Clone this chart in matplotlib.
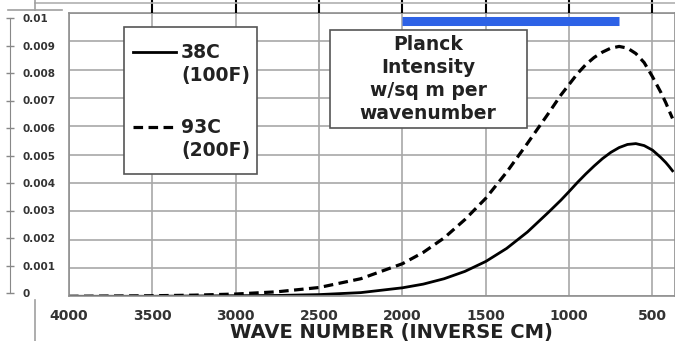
import matplotlib
matplotlib.use("Agg")
import matplotlib.pyplot as plt
from matplotlib.lines import Line2D
from matplotlib.patches import Rectangle

# values
wavenumber = [4000, 3750, 3500, 3250, 3000, 2750, 2500, 2250, 2000, 1875, 1750,
              1625, 1500, 1375, 1250, 1125, 1050, 1000, 950, 900, 850, 800, 750,
              700, 650, 600, 550, 500, 450, 420, 400, 380]
intensity_38c = [0.0, 0.0, 0.0, 0.00001, 0.00002, 0.00003, 0.00006, 0.00013,
                 0.00030, 0.00043, 0.00062, 0.00088, 0.00123, 0.00169, 0.00227,
                 0.00296, 0.00339, 0.00370, 0.00402, 0.00432, 0.00460, 0.00486,
                 0.00508, 0.00525, 0.00536, 0.00539, 0.00532, 0.00516, 0.00490,
                 0.00472, 0.00458, 0.00443]
intensity_93c = [0.0, 0.00001, 0.00002, 0.00004, 0.00008, 0.00016, 0.00031,
                 0.00062, 0.00115, 0.00155, 0.00206, 0.00271, 0.00346, 0.00438,
                 0.00540, 0.00645, 0.00710, 0.00748, 0.00786, 0.00818, 0.00843,
                 0.00862, 0.00876, 0.00882, 0.00876, 0.00857, 0.00825, 0.00775,
                 0.00720, 0.00683, 0.00655, 0.00628]
band_x = [2000, 700]
band_y = 0.00973

xticks = [4000, 3500, 3000, 2500, 2000, 1500, 1000, 500]
yticks = [0, 0.001, 0.002, 0.003, 0.004, 0.005, 0.006, 0.007, 0.008, 0.009, 0.01]
ytick_labels = ["0", "0.001", "0.002", "0.003", "0.004", "0.005", "0.006",
                "0.007", "0.008", "0.009", "0.01"]
legend_labels = ["38C\n(100F)", "93C\n(200F)"]
box_text = "Planck\nIntensity\nw/sq m per\nwavenumber"
xlabel = "WAVE NUMBER (INVERSE CM)"

W, H = 675, 341
plt.rcParams['font.family'] = ['DejaVu Sans']


def fx(x):
    return x / W


def fy(y):
    return 1 - y / H


fig = plt.figure(figsize=(W / 100, H / 100), dpi=100)

# main plot area
ax = fig.add_axes([fx(69), fy(296.3), (W - 69) / W, 283.3 / H])
ax.set_xlim(4000, 365)
ax.set_ylim(0, 0.01)
ax.set_xticks(xticks)
ax.set_yticks(yticks)
ax.set_yticklabels([])
ax.grid(True, color='#a8a8a8', lw=1.2)
ax.set_axisbelow(True)
ax.tick_params(axis='both', length=0)
ax.tick_params(axis='x', pad=9, labelsize=10, labelcolor='#333333')
for lab in ax.get_xticklabels():
    lab.set_fontweight('bold')
for sp in ax.spines.values():
    sp.set_color('#8f8f8f')
    sp.set_linewidth(1.2)

ax.plot(wavenumber, intensity_38c, color='black', lw=2.0,
        solid_joinstyle='round')
ax.plot(wavenumber, intensity_93c, color='black', lw=2.3, dashes=(3, 1.7),
        dash_joinstyle='round')
ax.plot(band_x, [band_y, band_y], color='#2d62e6', lw=6.5, solid_capstyle='butt')

# black tick marks above the plot (left over from the chart above)
ax_top = ax.twiny()
ax_top.set_xlim(ax.get_xlim())
ax_top.set_xticks(xticks[1:])
ax_top.set_xticklabels([])
ax_top.tick_params(axis='x', direction='out', length=9.5, width=1.5, color='black')
for sp in ax_top.spines.values():
    sp.set_visible(False)

# separate value scale on the far left
ax_left = fig.add_axes([fx(10), fy(293), 0.0001, (293 - 18) / H])
ax_left.set_ylim(0, 0.01)
ax_left.set_xticks([])
ax_left.set_yticks(yticks)
ax_left.set_yticklabels(ytick_labels, fontsize=7.5, fontweight='bold', color='#333333')
ax_left.tick_params(axis='y', left=False, right=True, labelleft=False,
                    labelright=True, direction='inout', length=6, width=1,
                    color='#888888', pad=6)
ax_left.patch.set_visible(False)
for name, sp in ax_left.spines.items():
    sp.set_visible(name == 'left')
    sp.set_color('#888888')

# stray lines around the edges of the cropped picture
fig.add_artist(Line2D([fx(35), 1], [fy(3.3)] * 2, color='#b0b0b0', lw=1.2))
fig.add_artist(Line2D([fx(8), fx(62)], [fy(9.5)] * 2, color='#a0a0a0', lw=1.2))
fig.add_artist(Line2D([fx(35)] * 2, [fy(0), fy(9.5)], color='#a0a0a0', lw=1.2))
fig.add_artist(Line2D([fx(35)] * 2, [fy(300), fy(341)], color='#a0a0a0', lw=1.2))

fig.text(fx(391), fy(332.5), xlabel, ha='center', va='center', fontsize=14,
         fontweight='bold', color='#222222')

# legend box, drawn by hand
fig.add_artist(Rectangle((fx(124), fy(174)), fx(257) - fx(124), fy(27) - fy(174),
                         transform=fig.transFigure, facecolor='white',
                         edgecolor='#555555', lw=1.2))
fig.add_artist(Line2D([fx(133), fx(176)], [fy(52)] * 2, color='black', lw=2.0))
fig.add_artist(Line2D([fx(133), fx(177)], [fy(127)] * 2, color='black', lw=2.3,
                      dashes=(3, 1.7)))
for label, top in zip(legend_labels, [52, 127]):
    fig.text(fx(181), fy(top - 9), label, ha='left', va='top', fontsize=13.5,
             fontweight='bold', color='#222222', linespacing=1.25)

# caption box
fig.add_artist(Rectangle((fx(330), fy(128)), fx(527) - fx(330), fy(30) - fy(128),
                         transform=fig.transFigure, facecolor='white',
                         edgecolor='#555555', lw=1.2))
fig.text(fx(428), fy(79), box_text, ha='center', va='center', fontsize=13.5,
         fontweight='bold', color='#222222', linespacing=1.25)

fig.savefig("out.png", dpi=100)
